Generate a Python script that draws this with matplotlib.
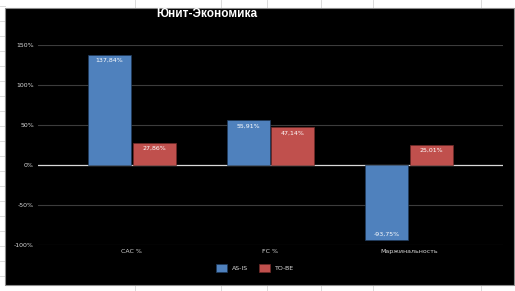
import matplotlib
matplotlib.use("Agg")
from matplotlib import pyplot as plt
from matplotlib.patches import Rectangle
from matplotlib.lines import Line2D
import numpy as np

# chart data
categories = ["CAC %", "FC %", "Маржинальность"]
as_is = [137.84, 55.91, -93.75]
to_be = [27.86, 47.14, 25.01]
series_names = ["AS-IS", "TO-BE"]
yticks = [-100, -50, 0, 50, 100, 150]

W, H = 515, 291
fig = plt.figure(figsize=(W / 100, H / 100), dpi=100)
fig.patch.set_facecolor("white")

# spreadsheet grid behind the chart
for x in [135, 221, 267, 321, 373, 481]:
    fig.add_artist(Line2D([x / W, x / W], [0, 1], color="#d4d4d4", lw=0.6, zorder=-3))
for y in range(6, H, 15):
    fig.add_artist(Line2D([0, 5 / W], [1 - y / H, 1 - y / H], color="#d4d4d4", lw=0.6, zorder=-3))

# black chart area
fig.add_artist(Rectangle((5 / W, 1 - 285 / H), 509 / W, 277 / H, transform=fig.transFigure,
                         facecolor="black", edgecolor="#8c8c8c", lw=0.8, zorder=-2))

ax = fig.add_axes([38 / W, 1 - 245 / H, 465 / W, 200 / H])
ax.patch.set_alpha(0)

x = np.arange(len(categories))
bw = 0.31
blue = "#4f81bd"
red = "#c0504d"
b1 = ax.bar(x - bw / 2 - 0.007, as_is, bw, color=blue, edgecolor="#1f3a5a", lw=0.5, zorder=3)
b2 = ax.bar(x + bw / 2 + 0.007, to_be, bw, color=red, edgecolor="#6e2a28", lw=0.5, zorder=3)

def fmt(v):
    return ("%.2f" % v).replace(".", ",") + "%"

for bars, vals in [(b1, as_is), (b2, to_be)]:
    for b, v in zip(bars, vals):
        cx = b.get_x() + b.get_width() / 2
        if v >= 0:
            ax.text(cx, v - 4, fmt(v), ha="center", va="top", color="white", fontsize=4.5, zorder=4)
        else:
            ax.text(cx, v + 4, fmt(v), ha="center", va="bottom", color="white", fontsize=4.5, zorder=4)

for t in yticks:
    ax.axhline(t, color="#d9d9d9" if t == 0 else "#3c3c3c", lw=0.9 if t == 0 else 0.8, zorder=1)

ax.set_xlim(-0.676, 2.676)
ax.set_ylim(-100, 150)
ax.set_yticks(yticks)
ax.set_yticklabels(["%d%%" % t for t in yticks], color="#d9d9d9", fontsize=4.5)
ax.set_xticks(x)
ax.set_xticklabels(categories, color="#d9d9d9", fontsize=4.5)
ax.tick_params(length=0, pad=3)
for s in ax.spines.values():
    s.set_visible(False)

fig.text(207 / W, 1 - 14 / H, "Юнит-Экономика", ha="center", va="center", color="white",
         fontsize=8.5, fontweight="bold", family="Liberation Sans")

leg = fig.legend([b1, b2], series_names, loc="center", bbox_to_anchor=(255 / W, 1 - 268 / H),
                 ncol=2, frameon=False, fontsize=4.5, labelcolor="#d9d9d9",
                 handlelength=1.8, handleheight=1.8, columnspacing=1.8, handletextpad=0.8)

fig.savefig("out.png", dpi=100, facecolor=fig.get_facecolor())
